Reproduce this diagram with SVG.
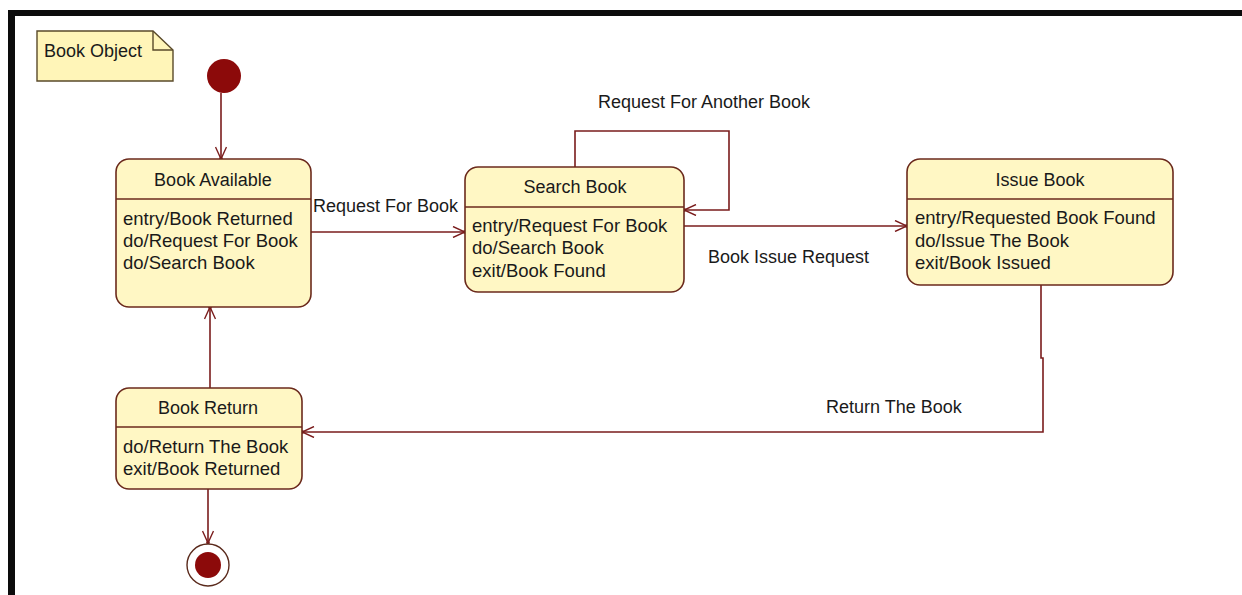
<svg xmlns="http://www.w3.org/2000/svg" width="1242" height="595" viewBox="0 0 1242 595">
  <style>
    .state { fill: #fff7c4; stroke: #6b2a1c; stroke-width: 1.6; }
    .divider { stroke: #6b2a1c; stroke-width: 1.6; }
    .title { font-family: "Liberation Sans", Arial, sans-serif; font-size: 18px; fill: #1a1a1a; text-anchor: middle; }
    .body { font-family: "Liberation Sans", Arial, sans-serif; font-size: 18.5px; fill: #1a1a1a; }
    .label { font-family: "Liberation Sans", Arial, sans-serif; font-size: 18px; fill: #1a1a1a; }
    .edge { fill: none; stroke: #7a1c1c; stroke-width: 1.6; }
    .note { fill: #fff5b8; stroke: #5a4a2a; stroke-width: 1.4; }
  </style>
  <defs>
    <marker id="arrow" viewBox="0 0 16 12" refX="15" refY="6" markerWidth="16" markerHeight="12" markerUnits="userSpaceOnUse" orient="auto">
      <polyline points="3,0.5 15,6 3,11.5" fill="none" stroke="#7a1c1c" stroke-width="1.4"/>
      <circle cx="14.5" cy="6" r="1.8" fill="#7a1c1c"/>
    </marker>
  </defs>

  <!-- background and frame -->
  <rect x="0" y="0" width="1242" height="595" fill="#ffffff"/>
  <rect x="8" y="10" width="1234" height="6" fill="#0c0c0c"/>
  <rect x="8" y="10" width="7" height="585" fill="#0c0c0c"/>

  <!-- note -->
  <g id="note-book-object">
    <path class="note" d="M37,31 H153 L173,50 V81 H37 Z"/>
    <path d="M153,31 V50 H173" fill="none" stroke="#5a4a2a" stroke-width="1.4"/>
    <text class="label" x="44" y="57" font-size="17.5">Book Object</text>
  </g>

  <!-- connectors -->
  <g id="connectors">
    <path class="edge" d="M221,93 V159" marker-end="url(#arrow)"/>
    <path class="edge" d="M311,232 H465" marker-end="url(#arrow)"/>
    <path class="edge" d="M575,167 V131 H729 V210 H684" marker-end="url(#arrow)"/>
    <path class="edge" d="M684,226 H907" marker-end="url(#arrow)"/>
    <path class="edge" d="M1041,285 V358 H1043 V432 H302" marker-end="url(#arrow)"/>
    <path class="edge" d="M210,388 V307" marker-end="url(#arrow)"/>
    <path class="edge" d="M208,489 V543" marker-end="url(#arrow)"/>
  </g>

  <!-- transition labels -->
  <g id="edge-labels">
    <text class="label" x="313" y="212">Request For Book</text>
    <text class="label" x="598" y="108">Request For Another Book</text>
    <text class="label" x="708" y="263">Book Issue Request</text>
    <text class="label" x="826" y="413">Return The Book</text>
  </g>

  <!-- initial state -->
  <g id="initial">
    <circle cx="224" cy="76" r="17" fill="#8c0a0a"/>
  </g>

  <!-- Book Available -->
  <g id="book-available">
    <rect class="state" x="116" y="159" width="195" height="148" rx="13"/>
    <line class="divider" x1="116" y1="199" x2="311" y2="199"/>
    <text class="title" x="213" y="186">Book Available</text>
    <text class="body" x="123" y="225">entry/Book Returned</text>
    <text class="body" x="123" y="247">do/Request For Book</text>
    <text class="body" x="123" y="269">do/Search Book</text>
  </g>

  <!-- Search Book -->
  <g id="search-book">
    <rect class="state" x="465" y="167" width="219" height="125" rx="13"/>
    <line class="divider" x1="465" y1="207" x2="684" y2="207"/>
    <text class="title" x="575" y="193">Search Book</text>
    <text class="body" x="472" y="232">entry/Request For Book</text>
    <text class="body" x="472" y="254">do/Search Book</text>
    <text class="body" x="472" y="277">exit/Book Found</text>
  </g>

  <!-- Issue Book -->
  <g id="issue-book">
    <rect class="state" x="907" y="159" width="266" height="126" rx="13"/>
    <line class="divider" x1="907" y1="199" x2="1173" y2="199"/>
    <text class="title" x="1040" y="186">Issue Book</text>
    <text class="body" x="915" y="224">entry/Requested Book Found</text>
    <text class="body" x="915" y="247">do/Issue The Book</text>
    <text class="body" x="915" y="269">exit/Book Issued</text>
  </g>

  <!-- Book Return -->
  <g id="book-return">
    <rect class="state" x="116" y="388" width="186" height="101" rx="13"/>
    <line class="divider" x1="116" y1="427" x2="302" y2="427"/>
    <text class="title" x="208" y="414">Book Return</text>
    <text class="body" x="123" y="453">do/Return The Book</text>
    <text class="body" x="123" y="475">exit/Book Returned</text>
  </g>

  <!-- final state -->
  <g id="final">
    <circle cx="208" cy="565" r="21" fill="#ffffff" stroke="#5a2a1c" stroke-width="1.4"/>
    <circle cx="208" cy="565" r="13" fill="#8c0a0a"/>
  </g>
</svg>
